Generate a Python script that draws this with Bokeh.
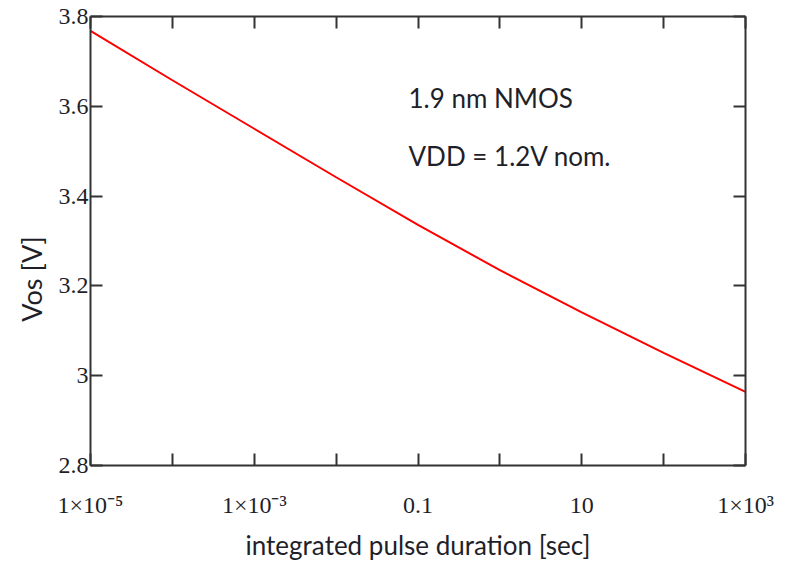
from bokeh.plotting import figure
from bokeh.models import (Range1d, FixedTicker, LogAxis, LinearAxis, Label,
                          CustomJSTickFormatter)
from bokeh.embed import file_html
from bokeh.resources import INLINE

# Offset voltage vs integrated pulse duration (one point per decade)
pulse_duration = [1e-5, 1e-4, 1e-3, 1e-2, 1e-1, 1.0, 10.0, 100.0, 1000.0]
vos = [3.768, 3.658, 3.550, 3.442, 3.336, 3.235, 3.141, 3.051, 2.964]

x_ticks = [1e-5, 1e-4, 1e-3, 1e-2, 1e-1, 1.0, 10.0, 100.0, 1000.0]
x_tick_labels = ["1×10⁻⁵", "", "1×10⁻³", "", "0.1", "", "10", "", "1×10³"]
y_ticks = [2.8, 3.0, 3.2, 3.4, 3.6, 3.8]
y_tick_labels = ["2.8", "3", "3.2", "3.4", "3.6", "3.8"]

AX = "#333333"
TXT = "#1f1f2a"
SERIF = "Liberation Serif"
SANS = "Lato"

p = figure(width=788, height=564, x_axis_type="log",
           x_range=Range1d(1e-5, 1e3), y_range=Range1d(2.8, 3.8),
           output_backend="svg", toolbar_location=None,
           min_border_left=90, min_border_right=43,
           min_border_top=16, min_border_bottom=99)
p.outline_line_color = None
p.xgrid.visible = False
p.ygrid.visible = False
p.background_fill_color = "white"
p.border_fill_color = "white"

x_fmt = CustomJSTickFormatter(args=dict(vals=x_ticks, txt=x_tick_labels), code="""
    for (let i = 0; i < vals.length; i++) {
        if (Math.abs(Math.log10(tick) - Math.log10(vals[i])) < 1e-6) return txt[i];
    }
    return "";
""")
y_fmt = CustomJSTickFormatter(args=dict(vals=y_ticks, txt=y_tick_labels), code="""
    for (let i = 0; i < vals.length; i++) {
        if (Math.abs(tick - vals[i]) < 1e-6) return txt[i];
    }
    return "";
""")


def style(ax):
    ax.axis_line_color = AX
    ax.axis_line_width = 2
    ax.major_tick_line_color = AX
    ax.major_tick_line_width = 2
    ax.major_tick_in = 12
    ax.major_tick_out = 0
    ax.minor_tick_line_color = None


xa = p.xaxis[0]
xa.ticker = FixedTicker(ticks=x_ticks)
xa.formatter = x_fmt
style(xa)
xa.major_label_text_font = SERIF
xa.major_label_text_font_size = "24px"
xa.major_label_text_color = TXT
xa.major_label_standoff = 26
xa.axis_label = "integrated pulse duration [sec]"
xa.axis_label_text_font = SANS
xa.axis_label_text_font_size = "26px"
xa.axis_label_text_font_style = "normal"
xa.axis_label_text_color = TXT
xa.axis_label_standoff = 8

# trailing no-break spaces push the rotated title a little below centre
ya = p.yaxis[0]
ya.ticker = FixedTicker(ticks=y_ticks)
ya.formatter = y_fmt
style(ya)
ya.major_label_text_font = SERIF
ya.major_label_text_font_size = "24px"
ya.major_label_text_color = TXT
ya.major_label_standoff = 2
ya.axis_label = "Vos [V]" + "\u00a0" * 11
ya.axis_label_text_font = SANS
ya.axis_label_text_font_size = "27px"
ya.axis_label_text_font_style = "normal"
ya.axis_label_text_color = TXT
ya.axis_label_standoff = 8

top = LogAxis(ticker=FixedTicker(ticks=x_ticks), major_label_text_alpha=0,
              major_label_text_font_size="1px")
style(top)
p.add_layout(top, "above")

right = LinearAxis(ticker=FixedTicker(ticks=y_ticks), major_label_text_alpha=0,
                   major_label_text_font_size="1px")
style(right)
p.add_layout(right, "right")

p.line(pulse_duration, vos, line_color="#ff0000", line_width=2)

for label_text, yv in [("1.9 nm NMOS", 3.619), ("VDD = 1.2V nom.", 3.49)]:
    p.add_layout(Label(x=0.0766, y=yv, text=label_text, text_font=SANS,
                       text_font_size="26px", text_color=TXT,
                       text_baseline="middle", text_align="left"))

open("out.html", "w").write(file_html(p, INLINE))
